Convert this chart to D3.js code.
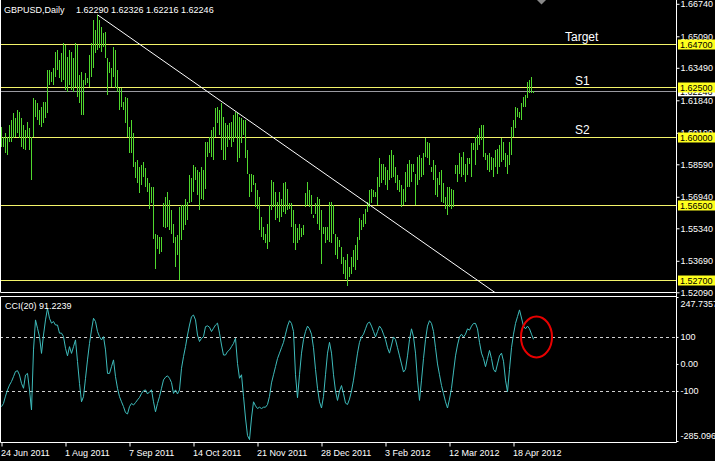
<!DOCTYPE html>
<html><head><meta charset="utf-8">
<script src="https://cdn.jsdelivr.net/npm/d3@7"></script>
<style>
html,body{margin:0;padding:0;background:#000;}
svg{display:block;}
text{font-family:"Liberation Sans",Arial,sans-serif;}
</style></head><body>
<svg id="c" width="715" height="461"></svg>
<script>
const titleSymbol = "GBPUSD,Daily";
const titleOHLC = "1.62290 1.62326 1.62216 1.62246";
const cciTitle = "CCI(20) 91.2239";
const highs = [
1.6050,1.5999,1.6016,1.5999,1.6058,1.6084,1.6118,1.6092,1.6135,1.6126,
1.6092,1.6058,1.6033,1.6075,1.6041,1.5999,1.6194,1.6185,1.6168,1.6135,
1.6151,1.6177,1.6177,1.6338,1.6338,1.6329,1.6346,1.6431,1.6440,1.6389,
1.6423,1.6473,1.6465,1.6406,1.6440,1.6431,1.6397,1.6473,1.6465,1.6312,
1.6329,1.6287,1.6321,1.6296,1.6414,1.6473,1.6592,1.6541,1.6618,1.6592,
1.6558,1.6524,1.6533,1.6397,1.6380,1.6346,1.6457,1.6440,1.6338,1.6245,
1.6245,1.6177,1.6202,1.6194,1.6050,1.6084,1.6016,
1.5872,1.5880,1.5846,1.5855,1.5872,1.5838,1.5787,1.5762,1.5745,1.5745,
1.5507,1.5499,1.5490,1.5490,1.5660,1.5694,1.5719,1.5677,1.5626,1.5558,
1.5490,1.5499,1.5643,1.5651,1.5651,1.5685,1.5668,1.5804,1.5787,1.5855,
1.5846,1.5829,1.5821,1.5846,1.5829,1.5973,1.5973,1.5999,1.6033,1.6050,
1.6143,1.6151,1.6135,1.6168,1.6101,1.6067,1.6058,1.6067,1.6075,1.6109,
1.6126,1.6118,1.6101,1.6092,1.6084,1.6084,1.5931,1.5812,1.5812,1.5804,
1.5762,1.5728,1.5694,1.5592,1.5541,1.5507,1.5558,
1.5651,1.5779,1.5770,1.5719,1.5668,1.5719,1.5685,1.5762,1.5770,1.5736,
1.5660,1.5660,1.5626,1.5558,1.5533,1.5558,1.5533,1.5550,1.5711,1.5770,
1.5728,1.5702,1.5601,1.5660,1.5694,1.5685,1.5626,1.5541,1.5541,1.5541,
1.5668,1.5668,1.5651,1.5507,1.5490,1.5473,1.5440,1.5389,1.5372,1.5406,
1.5338,1.5389,1.5423,1.5448,1.5490,1.5584,1.5575,1.5609,1.5634,1.5668,
1.5728,1.5736,1.5728,1.5719,1.5795,1.5889,1.5863,1.5863,1.5846,1.5829,
1.5906,1.5931,1.5906,1.5846,1.5804,1.5779,1.5753,
1.5736,1.5821,1.5863,1.5880,1.5863,1.5863,1.5812,1.5897,1.5906,1.5889,
1.5914,1.5990,1.5973,1.5965,1.5846,1.5880,1.5855,1.5787,1.5821,1.5829,
1.5762,1.5694,1.5745,1.5745,1.5736,1.5728,1.5855,1.5855,1.5914,1.5897,
1.5923,1.5863,1.5889,1.5889,1.5965,1.5965,1.5999,1.6007,1.6041,1.6058,
1.6058,1.5914,1.5906,1.5914,1.5897,1.5889,1.5931,1.5939,1.5956,1.5990,
1.5973,1.5914,1.5906,1.5973,1.6050,1.6084,1.6151,1.6143,1.6126,1.6168,
1.6202,1.6211,1.6279,1.6287,1.6304,1.6233];
const lows = [
1.5948,1.5948,1.5914,1.5906,1.5973,1.5973,1.5990,1.5999,1.6016,1.5990,
1.5948,1.5939,1.5931,1.5990,1.5931,1.5779,1.5999,1.6101,1.6084,1.6058,
1.6050,1.6067,1.6092,1.6118,1.6262,1.6279,1.6262,1.6304,1.6338,1.6296,
1.6279,1.6287,1.6236,1.6228,1.6262,1.6236,1.6228,1.6253,1.6202,1.6168,
1.6109,1.6109,1.6262,1.6270,1.6253,1.6304,1.6346,1.6423,1.6440,1.6448,
1.6431,1.6457,1.6397,1.6211,1.6321,1.6253,1.6304,1.6245,1.6228,1.6135,
1.6151,1.6135,1.6067,1.5999,1.5914,1.5914,1.5846,
1.5787,1.5762,1.5711,1.5753,1.5795,1.5745,1.5719,1.5634,1.5660,1.5482,
1.5329,1.5431,1.5406,1.5414,1.5541,1.5533,1.5541,1.5524,1.5507,1.5457,
1.5338,1.5397,1.5270,1.5473,1.5524,1.5550,1.5575,1.5660,1.5668,1.5719,
1.5779,1.5702,1.5626,1.5685,1.5677,1.5736,1.5897,1.5914,1.5897,1.5880,
1.5999,1.6067,1.6007,1.5931,1.5880,1.5880,1.5948,1.5982,1.5948,1.5973,
1.5990,1.5872,1.5889,1.5965,1.6007,1.5889,1.5812,1.5694,1.5719,1.5753,
1.5643,1.5634,1.5524,1.5490,1.5473,1.5457,1.5431,
1.5465,1.5626,1.5643,1.5575,1.5584,1.5567,1.5592,1.5618,1.5609,1.5626,
1.5634,1.5541,1.5457,1.5423,1.5457,1.5473,1.5490,1.5499,1.5643,1.5651,
1.5643,1.5609,1.5584,1.5609,1.5558,1.5524,1.5355,1.5507,1.5457,1.5473,
1.5465,1.5457,1.5507,1.5397,1.5380,1.5440,1.5355,1.5304,1.5279,1.5240,
1.5287,1.5304,1.5338,1.5321,1.5372,1.5473,1.5524,1.5541,1.5558,1.5618,
1.5643,1.5660,1.5694,1.5694,1.5651,1.5745,1.5762,1.5779,1.5753,1.5728,
1.5779,1.5787,1.5795,1.5762,1.5728,1.5719,1.5643,
1.5651,1.5668,1.5745,1.5745,1.5770,1.5821,1.5651,1.5753,1.5779,1.5795,
1.5804,1.5897,1.5889,1.5855,1.5821,1.5779,1.5702,1.5694,1.5753,1.5668,
1.5660,1.5634,1.5601,1.5643,1.5634,1.5643,1.5812,1.5770,1.5812,1.5795,
1.5804,1.5770,1.5804,1.5863,1.5795,1.5931,1.5855,1.5931,1.5956,1.5982,
1.5897,1.5880,1.5829,1.5821,1.5829,1.5795,1.5846,1.5812,1.5846,1.5872,
1.5880,1.5846,1.5812,1.5855,1.5906,1.5999,1.6041,1.6101,1.6092,1.6084,
1.6151,1.6151,1.6194,1.6219,1.6219,1.6222];
const cci = [
-158,-146,-119,-96,-78,-65,-47,-28,-25,-41,
-72,-90,-41,-35,-96,-170,52,163,132,101,
39,107,163,206,169,151,157,144,144,114,
114,101,58,30,64,39,64,89,9,-72,
-140,-121,-53,15,76,126,169,157,120,101,
89,101,52,-35,-35,-10,15,-47,-90,-121,
-140,-158,-180,-185,-158,-146,-152,-143,-133,-124,
-109,-99,-96,-111,-103,-96,-140,-177,-146,-121,
-90,-59,-49,-44,-53,-69,-109,-96,-111,-96,
-16,27,64,107,144,175,181,163,107,83,
95,101,138,141,136,120,132,144,151,114,
70,33,33,46,52,64,76,95,2,-53,
-40,-120,-200,-265,-280,-200,-140,-155,-165,-160,
-165,-160,-160,-150,-120,-70,-40,-10,20,40,
60,80,110,140,160,150,120,-40,-125,-40,
40,90,120,140,130,110,60,-20,-90,-140,
-163,-120,-40,40,80,40,-40,-100,-135,-100,
-80,-110,-145,-150,-130,-100,-60,-10,40,80,
100,110,130,150,155,140,120,100,120,140,
130,110,90,60,40,70,100,90,60,30,
0,-30,-20,30,90,130,100,40,-60,-135,
-60,20,90,140,160,150,120,60,0,-40,
-80,-110,-140,-163,-130,-90,-30,30,70,100,
110,100,110,130,125,140,150,150,130,80,
40,20,-10,20,50,20,-20,-30,0,30,
40,10,-60,-103,-20,60,110,150,175,200,
170,140,130,140,130,110,91.2239];
const dateLabels = ["24 Jun 2011","1 Aug 2011","7 Sep 2011","14 Oct 2011","21 Nov 2011","28 Dec 2011","3 Feb 2012","12 Mar 2012","18 Apr 2012"];
const dateIdx = [0,32,64,96,128,160,192,224,256];
const priceTicks = [1.66740,1.65090,1.63490,1.61840,1.60190,1.58590,1.56940,1.55340,1.53690,1.52090];
const levelPrices = [1.64700,1.62500,1.60000,1.56500,1.52700];
const levelTexts = ["Target","S1","S2"];
const levelTextPrices = [1.64700,1.62500,1.60000];
const trendIdx = [48,238];
const trendPrice = [1.6618,1.5270];
const bidPrice = 1.62246;
const cciTicks = [247.7357,100,0,-100,-285.096];
const cciTickText = ["247.7357","100","0.00","-100","-285.096"];
const cciLevels = [100,-100];

const W=715,H=461;
const svg=d3.select("#c");
svg.append("rect").attr("width",W).attr("height",H).attr("fill","#000");
const N=highs.length;
const AX=676.5;
const x=d3.scaleLinear().domain([0,N-1]).range([1.5,1.5+2*(N-1)]);
const y=d3.scaleLinear().domain([1.5209,1.6674]).range([292.3,3.8]);
const yc=d3.scaleLinear().domain([-285.096,247.7357]).range([441,297]);

const defs=svg.append("defs");
defs.append("clipPath").attr("id","cm").append("rect").attr("x",0).attr("y",0).attr("width",676).attr("height",292);
defs.append("clipPath").attr("id","cc").append("rect").attr("x",0).attr("y",296).attr("width",676).attr("height",146);

const main=svg.append("g").attr("clip-path","url(#cm)");
main.selectAll("line.lv").data(levelPrices).join("line").attr("class","lv")
 .attr("x1",0).attr("x2",676).attr("y1",d=>Math.round(y(d))+0.5).attr("y2",d=>Math.round(y(d))+0.5)
 .attr("stroke","#f4f46a").attr("stroke-width",1);
main.append("line").attr("x1",0).attr("x2",676).attr("y1",Math.round(y(bidPrice))-0.5).attr("y2",Math.round(y(bidPrice))-0.5)
 .attr("stroke","#9a9aa0").attr("stroke-width",1);
main.append("g").attr("class","bars").selectAll("line").data(highs).join("line")
 .attr("x1",(d,i)=>Math.floor(x(i))+0.5).attr("x2",(d,i)=>Math.floor(x(i))+0.5)
 .attr("y1",d=>Math.round(y(d))).attr("y2",(d,i)=>Math.max(Math.round(y(lows[i])),Math.round(y(d))+1))
 .attr("stroke","#50d82e").attr("stroke-width",1).attr("shape-rendering","crispEdges");
const slope=(trendPrice[1]-trendPrice[0])/(trendIdx[1]-trendIdx[0]);
main.append("line").attr("x1",x(trendIdx[0])).attr("y1",y(trendPrice[0]))
 .attr("x2",x(trendIdx[0]+400)).attr("y2",y(trendPrice[0]+slope*400))
 .attr("stroke","#fff").attr("stroke-width",1);
main.selectAll("text.lt").data(levelTexts).join("text").attr("class","lt")
 .attr("x",(d,i)=>i===0?565:575).attr("y",(d,i)=>y(levelTextPrices[i])-2.5)
 .attr("fill","#fff").style("font-size","12px").text(d=>d);
svg.append("text").attr("x",4).attr("y",13).attr("fill","#fff").style("font-size","9px").text(titleSymbol);
svg.append("text").attr("x",76).attr("y",13).attr("fill","#fff").style("font-size","9px").text(titleOHLC);
svg.append("path").attr("d","M537,0L546,0L541.5,4.5Z").attr("fill","#888");

const cp=svg.append("g").attr("clip-path","url(#cc)");
cp.selectAll("line.cl").data(cciLevels).join("line").attr("class","cl")
 .attr("x1",0).attr("x2",676).attr("y1",d=>Math.round(yc(d))+0.5).attr("y2",d=>Math.round(yc(d))+0.5)
 .attr("stroke","#d0d0d0").attr("stroke-dasharray","3,3");
cp.append("path").datum(cci).attr("fill","none").attr("stroke","#3ebcbc").attr("stroke-width",1)
 .attr("d",d3.line().x((d,i)=>x(i)).y(d=>yc(d)));
svg.append("text").attr("x",5).attr("y",309).attr("fill","#fff").style("font-size","9px").text(cciTitle);

const bd=svg.append("g").attr("stroke","#fff").attr("fill","none");
bd.append("path").attr("d",`M0.5,0V292.5H${AX}`);
bd.append("path").attr("d",`M0.5,296.5H${AX}M0.5,296.5V442.5H${AX}`);
bd.append("line").attr("x1",AX).attr("x2",AX).attr("y1",0).attr("y2",442.5);

const pa=svg.append("g").attr("transform",`translate(${AX},0)`)
 .call(d3.axisRight(y).tickValues(priceTicks).tickFormat(d3.format(".5f")).tickSize(3).tickPadding(1));
pa.select(".domain").remove();
pa.selectAll("line").attr("stroke","#fff");
pa.selectAll("text").attr("fill","#fff").style("font-size","9px").style("font-family","Liberation Sans, Arial, sans-serif");

const bl=svg.append("g").attr("transform",`translate(678,${y(bidPrice)-1})`);
bl.append("rect").attr("x",0).attr("y",-5).attr("width",37).attr("height",10).attr("fill","#fff");
bl.append("text").attr("x",2).attr("y",3.5).attr("fill","#000").style("font-size","9px").text(d3.format(".5f")(bidPrice));
const ll=svg.selectAll("g.lb").data(levelPrices).join("g").attr("class","lb").attr("transform",d=>`translate(678,${Math.round(y(d))+0.5})`);
ll.append("rect").attr("x",0).attr("y",-5).attr("width",37).attr("height",10).attr("fill","#ffff1e");
ll.append("text").attr("x",2).attr("y",3.5).attr("fill","#000").style("font-size","9px").text(d=>d3.format(".5f")(d));

const ca=svg.append("g").attr("transform",`translate(${AX},0)`)
 .call(d3.axisRight(yc).tickValues(cciTicks).tickFormat((d,i)=>cciTickText[i]).tickSize(2).tickPadding(2));
ca.select(".domain").remove();
ca.selectAll("line").attr("stroke","#fff");
ca.selectAll("text").attr("fill","#fff").style("font-size","9px")
 .attr("dy",(d,i)=>i===0?"1.1em":(i===4?"-0.3em":"0.32em"));

const ta=svg.append("g").attr("transform","translate(0,442.5)")
 .call(d3.axisBottom(x).tickValues(dateIdx).tickFormat((d,i)=>dateLabels[i]).tickSize(4).tickPadding(3));
ta.select(".domain").remove();
ta.selectAll("line").attr("stroke","#fff");
ta.selectAll("text").attr("fill","#fff").style("font-size","9px").attr("text-anchor","start").attr("dx",-1);

svg.append("ellipse").attr("cx",x(N-1)+3).attr("cy",yc(100)).attr("rx",15.5).attr("ry",20.5)
 .attr("fill","none").attr("stroke","#e80000").attr("stroke-width",2);
</script></body></html>
